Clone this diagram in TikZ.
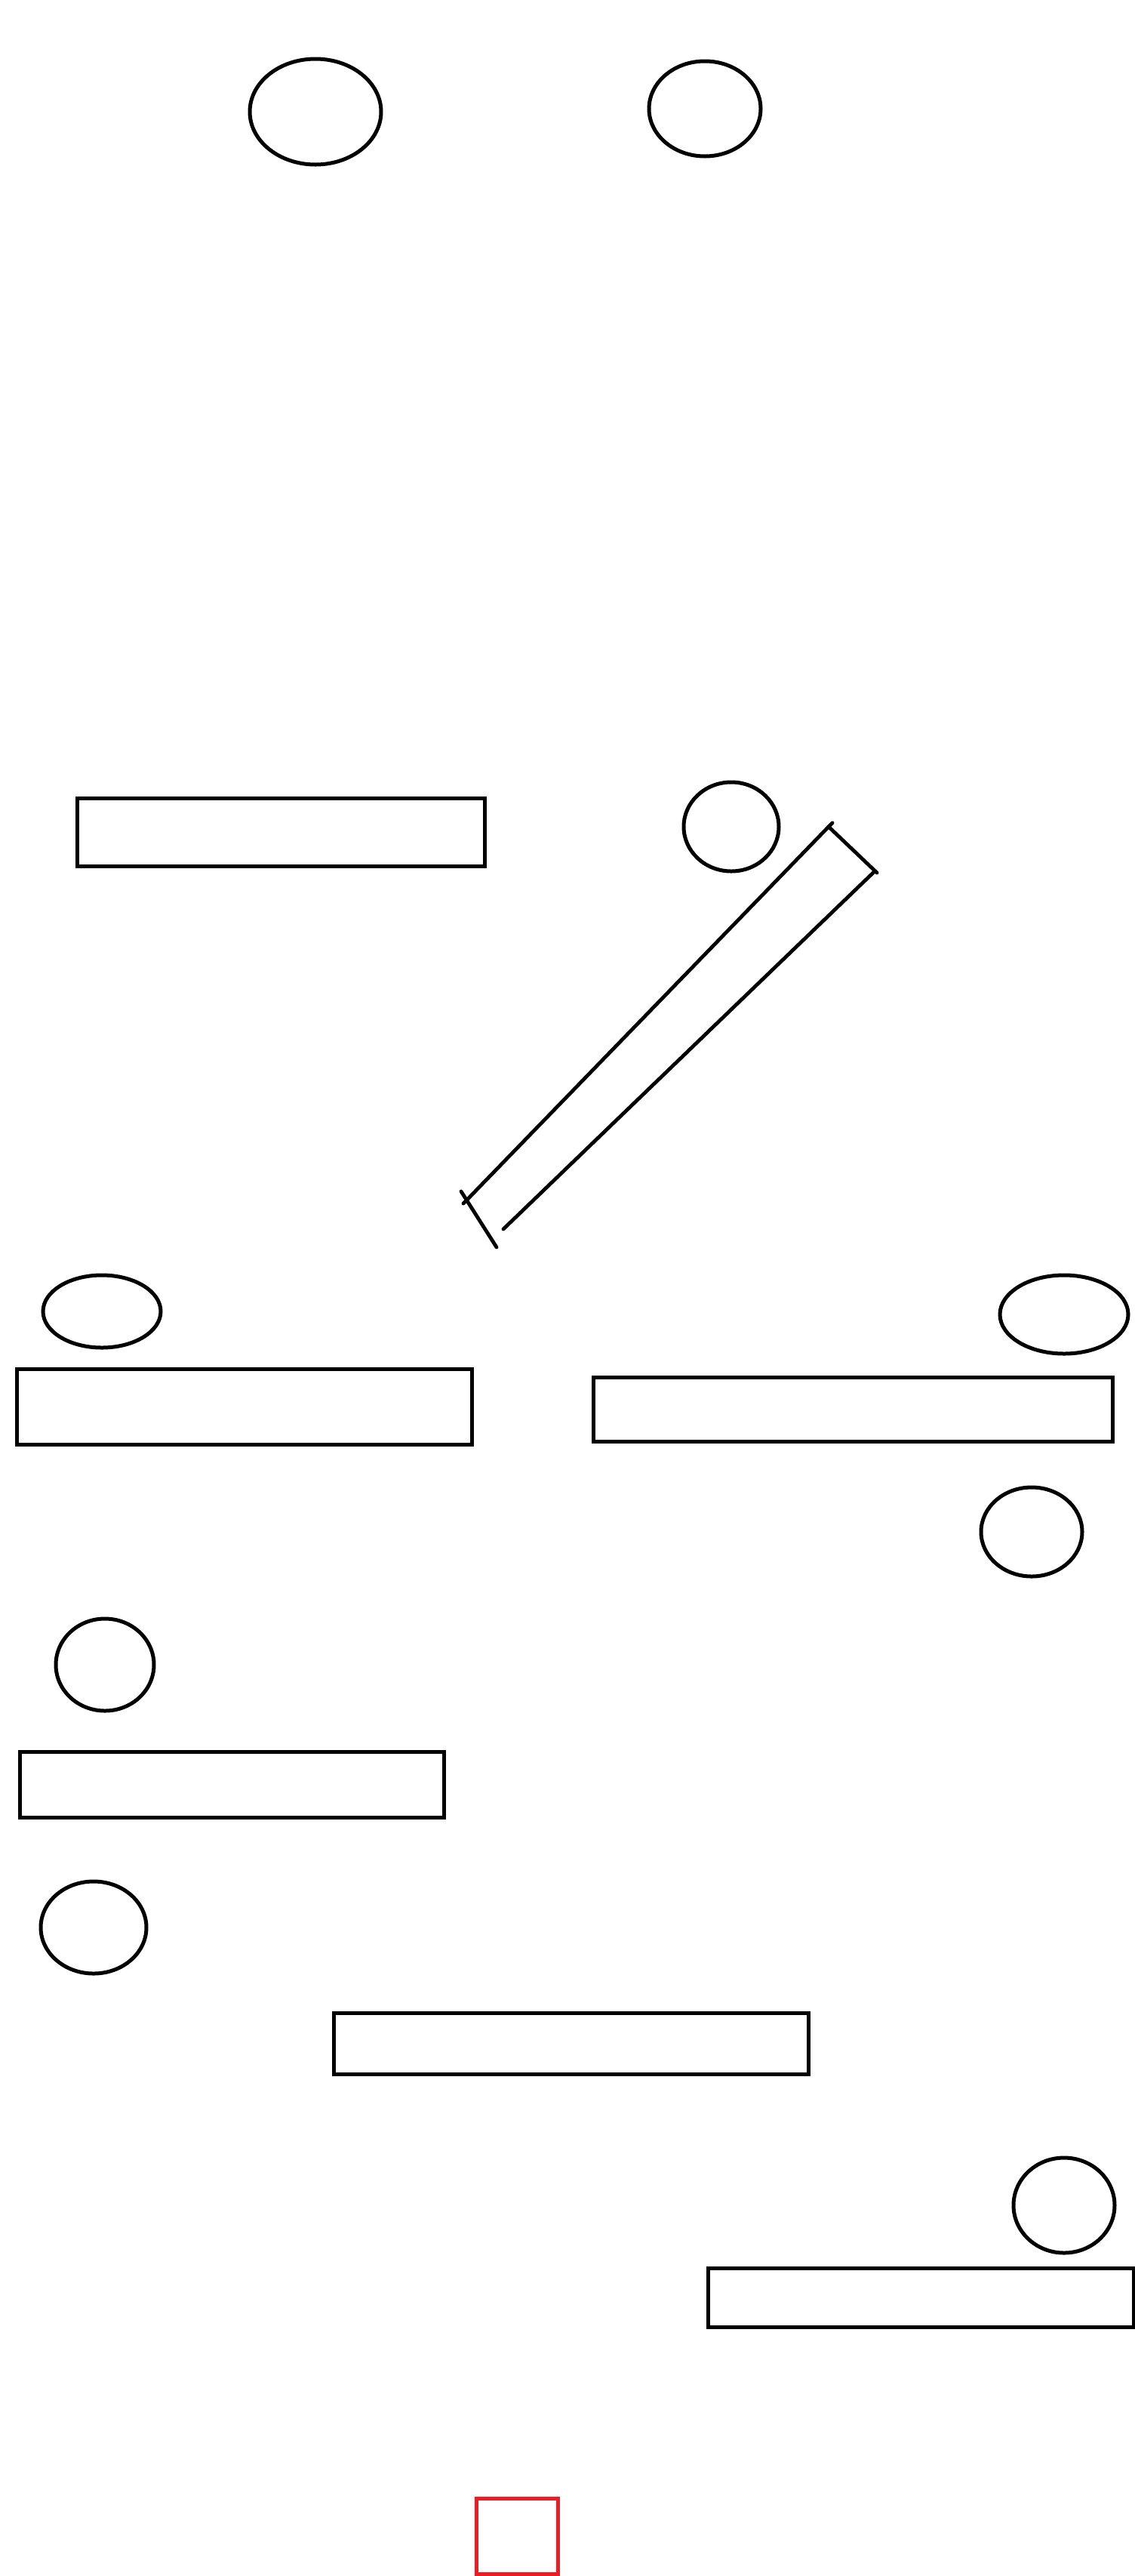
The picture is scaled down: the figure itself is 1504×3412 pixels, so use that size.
\documentclass[tikz,border=0pt]{standalone}
\usetikzlibrary{shapes.geometric}
\definecolor{paintred}{RGB}{237,28,36}
\tikzset{
  oval/.style={draw=black, line width=2.5pt, ellipse, inner sep=0pt},
  box/.style={draw=black, line width=2.5pt, rectangle, inner sep=0pt},
  redbox/.style={draw=paintred, line width=2.5pt, rectangle, inner sep=0pt},
  stroke/.style={draw=black, line width=2.4pt, line cap=round}
}
\begin{document}
\begin{tikzpicture}[x=0.5pt,y=-0.5pt]
\useasboundingbox (0,0) rectangle (1504,3412);
% ellipses
\node[oval, minimum width=87pt, minimum height=70pt] (e1) at (418,148) {};
\node[oval, minimum width=74pt, minimum height=63pt] (e2) at (934,144) {};
\node[oval, minimum width=63pt, minimum height=59pt] (e4) at (969,1095) {};
\node[oval, minimum width=78pt, minimum height=48pt] (e6) at (135,1737) {};
\node[oval, minimum width=85pt, minimum height=52pt] (e8) at (1410,1741) {};
\node[oval, minimum width=67pt, minimum height=59pt] (e10) at (1367,2029) {};
\node[oval, minimum width=65pt, minimum height=61pt] (e11) at (139,2205) {};
\node[oval, minimum width=70pt, minimum height=61pt] (e13) at (124,2553) {};
\node[oval, minimum width=67pt, minimum height=63pt] (e15) at (1410,2921) {};
% rectangles
\node[box, minimum width=270pt, minimum height=45pt] (r3) at (372,1102.5) {};
\node[box, minimum width=301.5pt, minimum height=50pt] (r7) at (323.5,1863) {};
\node[box, minimum width=344pt, minimum height=42.5pt] (r9) at (1130,1866.5) {};
\node[box, minimum width=281pt, minimum height=43.5pt] (r12) at (307,2363.5) {};
\node[box, minimum width=314.5pt, minimum height=40.5pt] (r14) at (756.5,2706.5) {};
\node[box, minimum width=282pt, minimum height=39pt] (r16) at (1220,3043) {};
\node[redbox, minimum width=54pt, minimum height=50pt] (red) at (685.5,3359.5) {};
% diagonal strip
\coordinate (a0) at (614,1594);
\coordinate (a1) at (618,1590);
\coordinate (a2) at (1098,1095);
\coordinate (t2) at (1103,1090);
\coordinate (b2) at (1162,1156);
\coordinate (c1) at (1158,1155);
\coordinate (c2) at (667,1628);
\coordinate (d1) at (611,1578);
\coordinate (d2) at (658,1652);
\draw[stroke] (a0) -- (a1) -- (a2) -- (b2);
\draw[stroke] (a2) -- (t2);
\draw[stroke] (c1) -- (c2);
\draw[stroke] (d1) -- (d2);
\end{tikzpicture}
\end{document}
